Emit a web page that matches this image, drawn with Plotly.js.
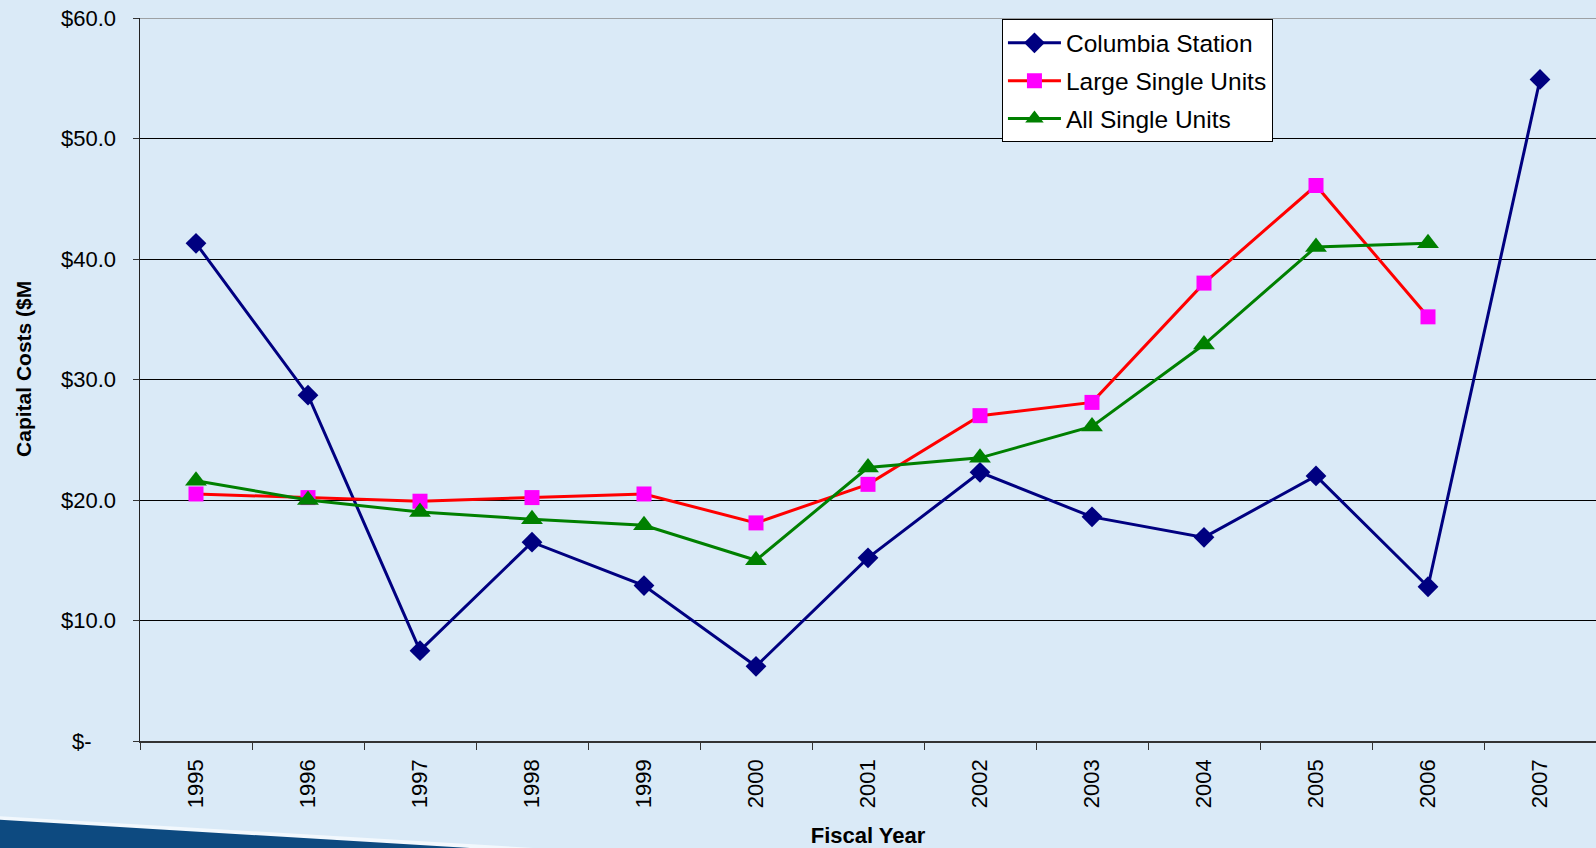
<!DOCTYPE html>
<html>
<head>
<meta charset="utf-8">
<script src="https://cdn.plot.ly/plotly-3.0.1.min.js"></script>
<style>
html,body{margin:0;padding:0;background:#DAEAF7;}
#chart{width:1596px;height:848px;}
</style>
</head>
<body>
<div id="chart"></div>
<script>
const years = ['1995','1996','1997','1998','1999','2000','2001','2002','2003','2004','2005','2006','2007'];
const columbiaStation = [41.3, 28.7, 7.5, 16.5, 12.9, 6.2, 15.2, 22.3, 18.6, 16.9, 22.0, 12.8, 54.9];
const largeSingleUnits = [20.5, 20.2, 19.9, 20.2, 20.5, 18.1, 21.3, 27.0, 28.1, 38.0, 46.1, 35.2, null];
const allSingleUnits = [21.6, 20.0, 19.0, 18.4, 17.9, 15.0, 22.7, 23.5, 26.1, 32.9, 41.0, 41.3, null];
const yTickVals = [0, 10, 20, 30, 40, 50, 60];
const yTickText = ['$-\u00a0\u00a0\u00a0\u00a0', '$10.0', '$20.0', '$30.0', '$40.0', '$50.0', '$60.0'];

const traces = [
  {x: years, y: columbiaStation, name: 'Columbia Station', type: 'scatter', mode: 'lines+markers',
   legendgroup: 'a', line: {color: '#000080', width: 3}, marker: {symbol: 'diamond', size: 16, color: '#000080'}},
  {x: years, y: largeSingleUnits, name: 'Large Single Units', type: 'scatter', mode: 'lines+markers',
   legendgroup: 'b', line: {color: '#FF0000', width: 3}, marker: {symbol: 'square', size: 15, color: '#FF00FF'}},
  {x: years, y: allSingleUnits, name: 'All Single Units', type: 'scatter', mode: 'lines+markers',
   legendgroup: 'c', line: {color: '#008000', width: 3}, marker: {symbol: 'triangle-up', size: 19, color: '#008000'}}
];

const layout = {
  width: 1596, height: 848,
  paper_bgcolor: '#DAEAF7', plot_bgcolor: '#DAEAF7',
  margin: {l: 140, r: 0, t: 18, b: 107},
  font: {family: 'Liberation Sans, Arial, sans-serif', color: '#000', size: 22},
  showlegend: true,
  legend: {x: 0.592, y: 0.998, xanchor: 'left', yanchor: 'top', bgcolor: '#FFFFFF',
           bordercolor: '#000', borderwidth: 1, font: {size: 24.5}, tracegroupgap: 3, itemwidth: 53},
  xaxis: {type: 'category', range: [-0.5, 12.5], tickson: 'boundaries', ticks: 'outside', ticklen: 7,
          tickcolor: '#333', showline: true, linecolor: '#333', linewidth: 1.5, showgrid: false,
          tickangle: -90, tickfont: {size: 22}, zeroline: false, fixedrange: true, ticklabelstandoff: 8,
          title: {text: '<b>Fiscal Year</b>', font: {size: 22}, standoff: 20}, automargin: false},
  yaxis: {range: [0, 60], tickvals: yTickVals, ticktext: yTickText, ticks: 'outside', ticklen: 6,
          tickcolor: '#333', showline: true, linecolor: '#222', linewidth: 1.5, showgrid: true,
          gridcolor: '#000', gridwidth: 1, zeroline: false, tickfont: {size: 22}, ticklabelstandoff: 12,
          automargin: false},
  annotations: [
    {text: '<b>Capital Costs ($M</b>', xref: 'paper', yref: 'paper', x: -0.0804, y: 0.5145,
     xanchor: 'center', yanchor: 'middle', textangle: -90, showarrow: false, font: {size: 21}}
  ],
  shapes: [
    {type: 'line', xref: 'paper', yref: 'y', x0: 0, x1: 1, y0: 60, y1: 60, line: {color: '#888', width: 1.5}},
    {type: 'path', xref: 'paper', yref: 'paper', layer: 'below',
     path: 'M -0.0962 -0.1040 L 0.2700 -0.148 L -0.0962 -0.148 Z', fillcolor: '#F2F8FD', line: {width: 0}},
    {type: 'path', xref: 'paper', yref: 'paper', layer: 'below',
     path: 'M -0.0962 -0.1090 L 0.2266 -0.148 L -0.0962 -0.148 Z', fillcolor: '#0D4A80', line: {width: 0}}
  ]
};

Plotly.newPlot('chart', traces, layout, {displayModeBar: false, staticPlot: true});
</script>
</body>
</html>
